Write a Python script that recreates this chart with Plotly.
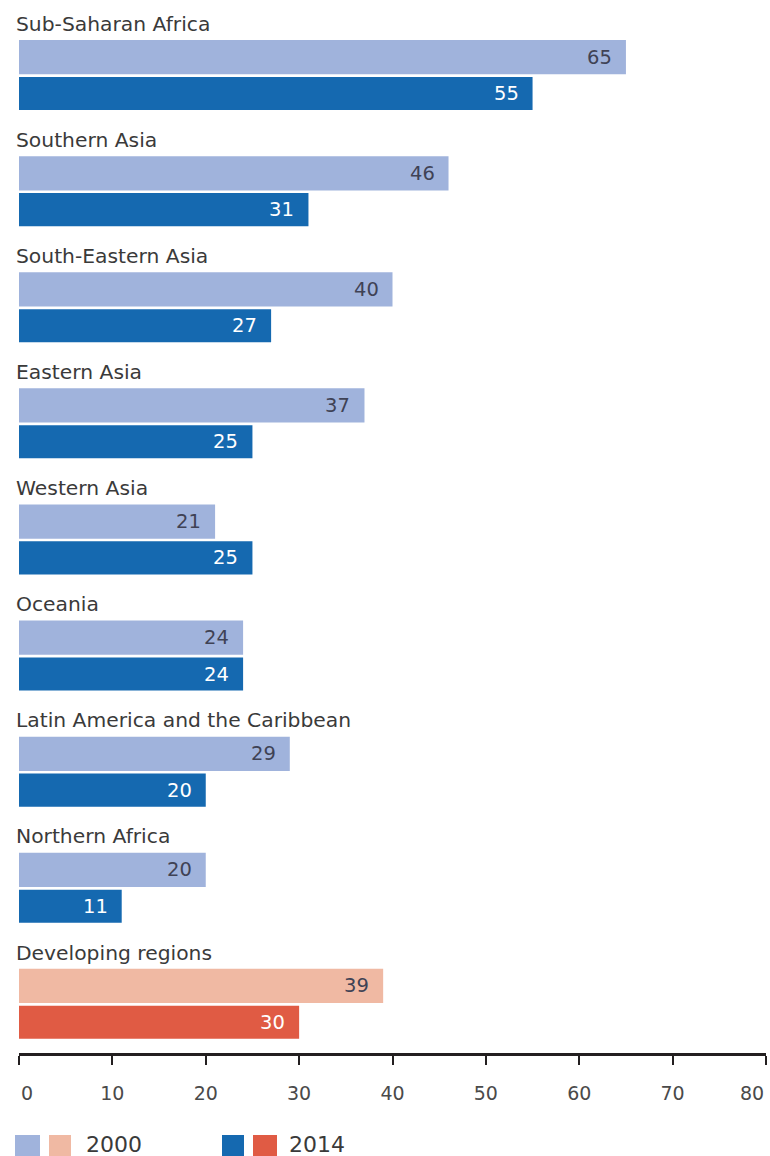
import plotly.graph_objects as go

regions = [
    "Sub-Saharan Africa",
    "Southern Asia",
    "South-Eastern Asia",
    "Eastern Asia",
    "Western Asia",
    "Oceania",
    "Latin America and the Caribbean",
    "Northern Africa",
    "Developing regions",
]
values_2000 = [65, 46, 40, 37, 21, 24, 29, 20, 39]
values_2014 = [55, 31, 27, 25, 25, 24, 20, 11, 30]
x_ticks = [0, 10, 20, 30, 40, 50, 60, 70, 80]

LIGHT_BLUE = "#A0B3DC"
DARK_BLUE = "#1569B0"
LIGHT_RED = "#F0B9A3"
DARK_RED = "#E05B44"
TEXT = "#3a3a3a"
TICK_TEXT = "#4a4a4a"
FONT = "DejaVu Sans"

pos = list(range(len(regions)))
is_total = [r == "Developing regions" for r in regions]
col_2000 = [LIGHT_RED if t else LIGHT_BLUE for t in is_total]
col_2014 = [DARK_RED if t else DARK_BLUE for t in is_total]

fig = go.Figure()
fig.add_trace(go.Bar(
    name="2000", y=pos, x=values_2000, orientation="h",
    offset=-0.305, width=0.295, marker=dict(color=col_2000, line_width=0),
    hoverinfo="x",
))
fig.add_trace(go.Bar(
    name="2014", y=pos, x=values_2014, orientation="h",
    offset=0.013, width=0.285, marker=dict(color=col_2014, line_width=0),
    hoverinfo="x",
))

annotations = []
for i, name in enumerate(regions):
    annotations.append(dict(
        x=0, y=i - 0.445, xref="x", yref="y", text=name, showarrow=False,
        xanchor="left", yanchor="middle", xshift=-5,
        font=dict(family=FONT, size=20.3, color=TEXT),
    ))
    annotations.append(dict(
        x=values_2000[i], y=i - 0.1575, xref="x", yref="y", text=str(values_2000[i]),
        showarrow=False, xanchor="right", yanchor="middle", xshift=-12,
        font=dict(family=FONT, size=19.5, color="#3f4255"),
    ))
    annotations.append(dict(
        x=values_2014[i], y=i + 0.1555, xref="x", yref="y", text=str(values_2014[i]),
        showarrow=False, xanchor="right", yanchor="middle", xshift=-12,
        font=dict(family=FONT, size=19.5, color="white"),
    ))

W, H = 770, 1156
PLOT_H = 1053

# Legend: two swatches per year, drawn below the axis
shapes = []
legend_items = [
    ([(15, 40), (49, 71)], [LIGHT_BLUE, LIGHT_RED], "2000", 84),
    ([(222, 244), (253, 277)], [DARK_BLUE, DARK_RED], "2014", 287),
]
for boxes, colors, label, tx in legend_items:
    for (x0, x1), c in zip(boxes, colors):
        shapes.append(dict(
            type="rect", xref="paper", yref="paper",
            x0=(x0 - 19) / (766 - 19), x1=(x1 - 19) / (766 - 19),
            y0=-(1156 - PLOT_H) / PLOT_H, y1=-(1135 - PLOT_H) / PLOT_H,
            fillcolor=c, line_width=0, layer="above",
        ))
    annotations.append(dict(
        xref="paper", yref="paper", x=(tx - 19) / (766 - 19), y=-(1144 - PLOT_H) / PLOT_H,
        text=label, showarrow=False, xanchor="left", yanchor="middle",
        font=dict(family=FONT, size=22, color=TEXT),
    ))

# Inner tick labels sit centred under their ticks; the two end labels are
# anchored inward so they stay inside the frame.
tick_font = dict(family=FONT, size=19, color=TICK_TEXT)
inner_text = [str(v) if x_ticks[0] < v < x_ticks[-1] else "" for v in x_ticks]
for v, anchor in ((x_ticks[0], "left"), (x_ticks[-1], "right")):
    annotations.append(dict(
        x=v, xref="x", yref="paper", y=-(1093 - PLOT_H) / PLOT_H,
        text=str(v), showarrow=False, xanchor=anchor, yanchor="middle",
        font=tick_font,
    ))

fig.update_layout(
    width=W, height=H,
    margin=dict(l=19, r=4, t=0, b=103, autoexpand=False),
    paper_bgcolor="white", plot_bgcolor="white",
    showlegend=False, barmode="overlay",
    annotations=annotations, shapes=shapes,
    font=dict(family=FONT, color=TEXT),
)
fig.update_xaxes(
    range=[0, 80], tickvals=x_ticks, ticktext=inner_text,
    showgrid=False, zeroline=False, automargin=False,
    showline=True, linecolor="#231f20", linewidth=3,
    ticks="outside", ticklen=9, tickwidth=2, tickcolor="#231f20",
    ticklabelstandoff=12, ticklabeloverflow="allow",
    tickfont=tick_font, fixedrange=True,
)
fig.update_yaxes(
    range=[8.42, -0.65], showgrid=False, zeroline=False, showline=False,
    showticklabels=False, ticks="", fixedrange=True, automargin=False,
)

fig.write_html("out.html")
